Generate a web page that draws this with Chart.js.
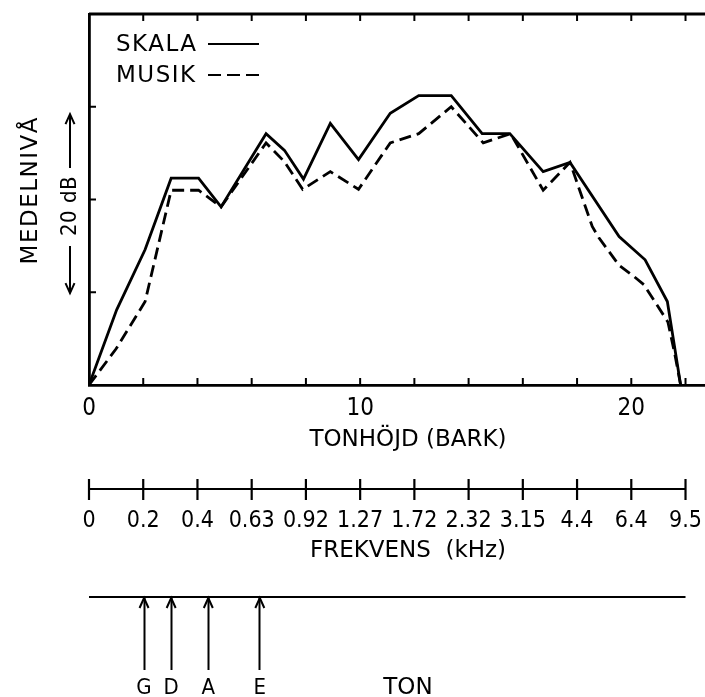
<!DOCTYPE html>
<html>
<head>
<meta charset="utf-8">
<script src="https://cdn.jsdelivr.net/npm/chart.js@4.4.1/dist/chart.umd.min.js"></script>
<style>
    html, body { margin: 0; padding: 0; background: #fff; overflow: hidden; }
    canvas { display: block; }
</style>
</head>
<body>
<canvas id="barkChart" width="730" height="697"></canvas>
<script>
// Medelnivå (dB) mot tonhöjd (bark)
const skalaBark = [0, 1.02, 2.07, 3.03, 4.04, 4.87, 6.53, 7.21, 7.91, 8.90, 9.94, 11.11, 12.16, 13.36, 14.50, 15.52, 16.75, 17.74, 19.55, 20.51, 21.33, 21.82];
const skalaNiva = [0, 8.1, 14.6, 22.3, 22.3, 19.2, 27.1, 25.3, 22.2, 28.2, 24.3, 29.3, 31.2, 31.2, 27.1, 27.1, 23.0, 24.0, 16.0, 13.5, 9.0, 0];

const musikBark = [0, 1.0, 2.07, 3.03, 4.04, 4.87, 6.53, 7.2, 7.88, 8.90, 9.94, 11.11, 12.16, 13.36, 14.54, 15.55, 16.75, 17.74, 18.56, 18.80, 19.55, 20.10, 20.47, 21.35, 21.60, 21.82];
const musikNiva = [0, 3.9, 9.0, 21.0, 21.0, 19.2, 26.1, 24.1, 21.1, 23.0, 21.1, 26.1, 27.1, 30.0, 26.1, 27.1, 21.0, 24.0, 17.1, 15.9, 12.9, 11.7, 10.8, 6.8, 3.4, 0];

const barkTicks = [0, 2, 4, 6, 8, 10, 12, 14, 16, 18, 20, 22];
const nivaTicks = [0, 10, 20, 30, 40];
const frekvensLabels = ["0", "0.2", "0.4", "0.63", "0.92", "1.27", "1.72", "2.32", "3.15", "4.4", "6.4", "9.5"];

// lösa strängar
const tonNamn = ["G", "D", "A", "E"];
const tonBark = [2.03, 3.03, 4.4, 6.3];

const FONT = "'DejaVu Sans', sans-serif";
const SMAL = "'DejaVu Sans Condensed', 'DejaVu Sans', sans-serif";
Chart.defaults.font.family = FONT;
Chart.defaults.color = "#000";

function linje(ctx, x1, y1, x2, y2) {
    ctx.beginPath();
    ctx.moveTo(x1, y1);
    ctx.lineTo(x2, y2);
    ctx.stroke();
}

function pilhuvud(ctx, x, y, dir) {
    // dir = -1 pekar uppåt, 1 pekar nedåt
    ctx.beginPath();
    ctx.moveTo(x - 4.5, y - dir * 10);
    ctx.lineTo(x, y);
    ctx.lineTo(x + 4.5, y - dir * 10);
    ctx.stroke();
}

const ramPlugin = {
    id: "ram",
    afterDraw(chart) {
        const ctx = chart.ctx;
        const a = chart.chartArea;
        const x = chart.scales.x;
        const y = chart.scales.y;
        const xf = chart.scales.xf;
        const xt = chart.scales.xt;

        ctx.save();
        ctx.strokeStyle = "#000";
        ctx.fillStyle = "#000";

        // övre ramlinje
        ctx.lineWidth = 2.8;
        linje(ctx, a.left, a.top, a.right, a.top);

        // streck inåt
        ctx.lineWidth = 2;
        x.ticks.forEach(function (t) {
            const px = x.getPixelForValue(t.value);
            if (t.value > 0) {
                linje(ctx, px, a.top, px, a.top + 7);
                linje(ctx, px, a.bottom, px, a.bottom - 7);
            }
        });
        y.ticks.forEach(function (t) {
            if (t.value > 0 && t.value < 40) {
                const py = y.getPixelForValue(t.value);
                linje(ctx, a.left, py, a.left + 7, py);
            }
        });

        // frekvensaxel
        const fy = xf.top;
        ctx.lineWidth = 2.2;
        linje(ctx, xf.getPixelForValue(barkTicks[0]), fy, xf.getPixelForValue(barkTicks[barkTicks.length - 1]), fy);
        xf.ticks.forEach(function (t) {
            const px = xf.getPixelForValue(t.value);
            linje(ctx, px, fy - 10, px, fy + 11);
        });

        // tonaxel med pilar
        const ty = xt.top;
        ctx.lineWidth = 2;
        linje(ctx, xt.getPixelForValue(barkTicks[0]), ty, xt.getPixelForValue(barkTicks[barkTicks.length - 1]), ty);
        xt.ticks.forEach(function (t) {
            pilhuvud(ctx, xt.getPixelForValue(t.value), ty + 1, -1);
        });

        // teckenförklaring
        ctx.font = "23px " + FONT;
        ctx.letterSpacing = "1.5px";
        ctx.textAlign = "left";
        ctx.textBaseline = "middle";
        chart.data.datasets.forEach(function (ds, i) {
            const ly = 45 + i * 31;
            ctx.fillText(ds.label, a.left + 27, ly);
            ctx.lineWidth = 2.2;
            ctx.setLineDash(ds.borderDash ? [13, 6] : []);
            linje(ctx, a.left + 119, ly - 1, a.left + 170, ly - 1);
            ctx.setLineDash([]);
        });

        // vänster axeltext
        ctx.save();
        ctx.translate(31, y.getPixelForValue(21));
        ctx.rotate(-Math.PI / 2);
        ctx.textAlign = "center";
        ctx.fillText("MEDELNIVÅ", 0, 0);
        ctx.restore();

        const dbx = 70;
        ctx.save();
        ctx.translate(dbx, y.getPixelForValue(19.3));
        ctx.rotate(-Math.PI / 2);
        ctx.textAlign = "center";
        ctx.letterSpacing = "0.5px";
        ctx.font = "22px " + SMAL;
        ctx.fillText("20 dB", 0, 0);
        ctx.restore();
        ctx.letterSpacing = "0px";
        ctx.lineWidth = 2;
        const upp = y.getPixelForValue(29.2);
        const ned = y.getPixelForValue(9.9);
        linje(ctx, dbx, y.getPixelForValue(23.4), dbx, upp);
        pilhuvud(ctx, dbx, upp, -1);
        linje(ctx, dbx, y.getPixelForValue(15.0), dbx, ned);
        pilhuvud(ctx, dbx, ned, 1);

        ctx.restore();
    }
};

var ctx = document.getElementById("barkChart").getContext("2d");

var barkChart = new Chart(ctx, {
    type: "scatter",
    data: {
        datasets: [
            {
                label: "SKALA",
                data: skalaBark.map((b, i) => ({ x: b, y: skalaNiva[i] })),
                showLine: true,
                borderColor: "#000",
                borderWidth: 2.8,
                pointRadius: 0,
                tension: 0,
            },
            {
                label: "MUSIK",
                data: musikBark.map((b, i) => ({ x: b, y: musikNiva[i] })),
                showLine: true,
                borderColor: "#000",
                borderWidth: 2.8,
                borderDash: [12, 6],
                pointRadius: 0,
                tension: 0,
            },
        ],
    },
    options: {
        responsive: false,
        animation: false,
        events: [],
        layout: {
            padding: { left: 0, top: 14, right: 3, bottom: 0 },
        },
        plugins: {
            legend: { display: false },
            tooltip: { enabled: false },
        },
        scales: {
            x: {
                type: "linear",
                position: "bottom",
                weight: 1,
                min: 0,
                max: 23.53,
                afterBuildTicks: (s) => { s.ticks = barkTicks.map((v) => ({ value: v })); },
                afterFit: (s) => { s.height = 104; },
                grid: { display: false, drawTicks: false },
                border: { display: true, color: "#000", width: 2.8 },
                ticks: {
                    autoSkip: false,
                    maxRotation: 0,
                    padding: 9,
                    font: { size: 24, family: SMAL },
                    callback: (v) => (v % 10 === 0 ? String(v) : ""),
                },
                title: {
                    display: true,
                    text: "TONHÖJD (BARK)",
                    font: { size: 23 },
                    padding: { top: 0, bottom: 35 },
                },
            },
            xf: {
                type: "linear",
                position: "bottom",
                weight: 2,
                min: 0,
                max: 23.53,
                afterBuildTicks: (s) => { s.ticks = barkTicks.map((v) => ({ value: v })); },
                afterFit: (s) => { s.height = 108; },
                grid: { display: false, drawTicks: false },
                border: { display: false },
                ticks: {
                    autoSkip: false,
                    maxRotation: 0,
                    padding: 18,
                    font: { size: 23, family: SMAL },
                    callback: (v, i) => frekvensLabels[i],
                },
                title: {
                    display: true,
                    text: "FREKVENS  (kHz)",
                    font: { size: 23 },
                    padding: { top: 0, bottom: 32 },
                },
            },
            xt: {
                type: "linear",
                position: "bottom",
                weight: 3,
                min: 0,
                max: 23.53,
                afterBuildTicks: (s) => { s.ticks = tonBark.map((v) => ({ value: v })); },
                afterFit: (s) => { s.height = 100; },
                grid: {
                    display: true,
                    drawOnChartArea: false,
                    drawTicks: true,
                    tickLength: 73,
                    tickWidth: 2,
                    tickColor: "#000",
                },
                border: { display: false },
                ticks: {
                    autoSkip: false,
                    maxRotation: 0,
                    padding: 5,
                    font: { size: 22, family: SMAL },
                    callback: (v, i) => tonNamn[i],
                },
                title: {
                    display: true,
                    text: "TON",
                    font: { size: 23, lineHeight: 0.8 },
                    padding: { top: 0, bottom: 0 },
                },
            },
            y: {
                type: "linear",
                position: "left",
                min: 0,
                max: 40,
                afterBuildTicks: (s) => { s.ticks = nivaTicks.map((v) => ({ value: v })); },
                afterFit: (s) => { s.width = 89; },
                grid: { display: false, drawTicks: false },
                border: { display: true, color: "#000", width: 2.8 },
                ticks: { display: false },
            },
        },
    },
    plugins: [ramPlugin],
});
</script>
</body>
</html>
